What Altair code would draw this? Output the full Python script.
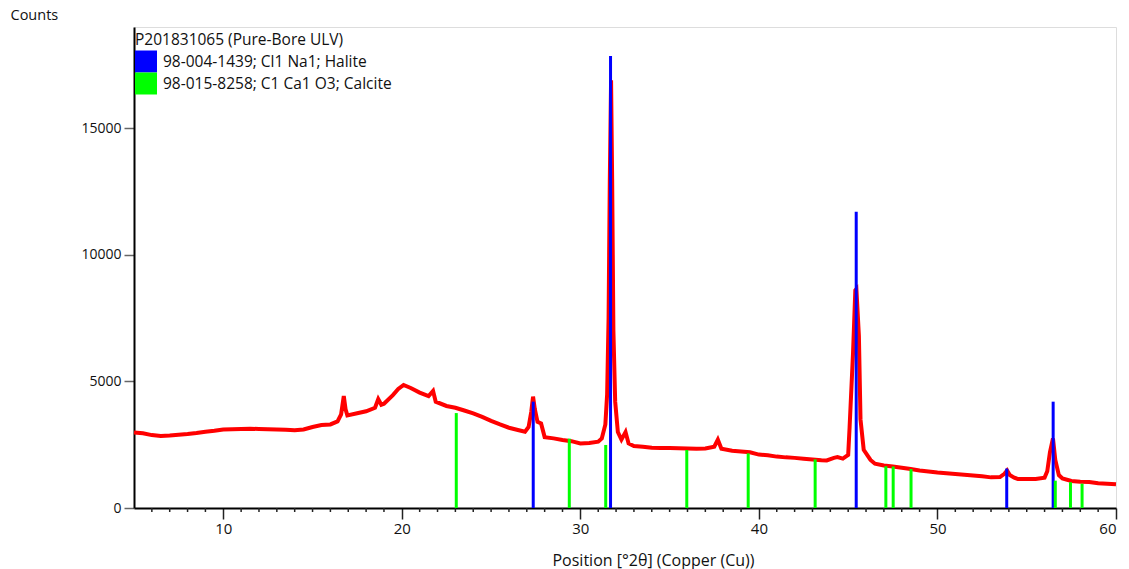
import altair as alt
import pandas as pd

# Measured diffraction profile (2θ in degrees, counts)
two_theta = [5.0, 5.5, 6.0, 6.5, 7.0, 7.5, 8.0, 8.5, 9.0, 9.5, 10.0, 10.5, 11.0, 11.5, 12.0, 12.5,
             13.0, 13.5, 14.0, 14.5, 15.0, 15.5, 16.0, 16.4, 16.6, 16.75, 16.85, 16.95, 17.5, 18.0,
             18.5, 18.68, 18.85, 19.0, 19.5, 19.8, 20.1, 20.5, 21.0, 21.5, 21.75, 21.9, 22.5, 23.0,
             23.5, 24.0, 24.5, 25.0, 25.5, 26.0, 26.5, 26.9, 27.1, 27.25, 27.35, 27.45, 27.6, 27.8,
             28.0, 28.5, 29.0, 29.5, 30.0, 30.5, 31.0, 31.2, 31.4, 31.5, 31.58, 31.65, 31.72, 31.78,
             31.85, 31.95, 32.1, 32.3, 32.53, 32.7, 33.0, 33.5, 34.0, 34.5, 35.0, 35.5, 36.0, 36.5,
             37.0, 37.5, 37.7, 37.9, 38.5, 39.0, 39.5, 40.0, 40.5, 41.0, 41.5, 42.0, 42.5, 43.0,
             43.5, 43.8, 44.2, 44.4, 44.7, 45.0, 45.08, 45.27, 45.4, 45.46, 45.6, 45.69, 45.87, 46.25,
             46.5, 47.0, 47.5, 48.0, 48.5, 49.0, 49.5, 50.0, 50.5, 51.0, 51.5, 52.0, 52.5, 53.0,
             53.5, 53.75, 53.9, 54.05, 54.3, 54.5, 55.0, 55.5, 56.0, 56.15, 56.3, 56.47, 56.6, 56.8,
             57.0, 57.5, 58.0, 58.5, 59.0, 59.5, 60.0]
counts = [2980, 2950, 2880, 2840, 2860, 2890, 2920, 2960, 3010, 3050, 3100, 3110, 3120, 3130, 3120, 3110,
          3100, 3090, 3070, 3100, 3200, 3280, 3300, 3420, 3700, 4420, 3900, 3660, 3740, 3820,
          3960, 4300, 4080, 4120, 4460, 4700, 4860, 4740, 4560, 4420, 4620, 4200, 4030, 3960,
          3850, 3740, 3600, 3440, 3300, 3170, 3080, 3010, 3200, 3800, 4400, 3900, 3400, 3340,
          2800, 2750, 2690, 2640, 2550, 2570, 2620, 2750, 3300, 4500, 7500, 13000, 16900, 13000,
          7000, 4200, 3000, 2700, 3000, 2550, 2450, 2420, 2380, 2370, 2370, 2360, 2350, 2340,
          2350, 2420, 2700, 2340, 2260, 2230, 2200, 2110, 2080, 2030, 2000, 1980, 1950, 1920,
          1890, 1880, 1980, 2010, 1950, 2100, 3200, 6100, 8600, 8650, 6800, 3500, 2300, 1900,
          1750, 1680, 1640, 1590, 1540, 1480, 1440, 1400, 1370, 1340, 1310, 1280, 1250, 1210,
          1220, 1350, 1480, 1300, 1200, 1150, 1150, 1150, 1200, 1450, 2200, 2750, 1900, 1300,
          1170, 1070, 1040, 1030, 980, 960, 940]

# Reference patterns (stick positions and heights)
halite_label = "98-004-1439; Cl1 Na1; Halite"
halite_pos = [27.36, 31.69, 45.45, 53.88, 56.48]
halite_int = [4200, 17850, 11700, 1560, 4200]

calcite_label = "98-015-8258; C1 Ca1 O3; Calcite"
calcite_pos = [23.05, 29.38, 31.42, 35.96, 39.40, 43.15, 47.11, 47.52, 48.52, 56.60, 57.45, 58.10]
calcite_int = [3750, 2740, 2490, 2290, 2160, 1920, 1650, 1640, 1540, 1080, 1020, 960]

legend_title = "P201831065 (Pure-Bore ULV)"
x_title = "Position [°2θ] (Copper (Cu))"
y_title = "Counts"
x_major = [10, 20, 30, 40, 50, 60]
x_minor = [v for v in range(6, 60) if v % 10 != 0]
y_ticks = [0, 5000, 10000, 15000]

FONT = "Open Sans"
W, H = 982, 481

profile = pd.DataFrame({"pos": two_theta, "counts": counts})
sticks = pd.DataFrame({
    "pos": halite_pos + calcite_pos,
    "intensity": halite_int + calcite_int,
    "phase": [halite_label] * len(halite_pos) + [calcite_label] * len(calcite_pos),
})
minor = pd.DataFrame({"pos": x_minor})

xscale = alt.Scale(domain=[5, 60], nice=False, zero=False)
yscale = alt.Scale(domain=[0, 19000], nice=False)
cscale = alt.Scale(domain=[halite_label, calcite_label], range=["#0000FF", "#00FF00"])

xaxis = alt.Axis(values=x_major, title=x_title, tickSize=11, tickColor="#222", tickWidth=1.5,
                 labelFontSize=15, labelFont=FONT, labelColor="#111", labelPadding=2,
                 domainColor="black", domainWidth=2, grid=False,
                 titleFont=FONT, titleFontSize=16, titleFontWeight="normal", titleColor="#111",
                 titleX=519, titleY=57, titleBaseline="alphabetic")
yaxis = alt.Axis(values=y_ticks, format="d", title=y_title, tickSize=10, tickColor="#666",
                 tickWidth=1.5, labelFontSize=14, labelFont=FONT, labelColor="#111",
                 labelPadding=3, domainColor="black", domainWidth=2, grid=False,
                 titleFont=FONT, titleFontSize=14.5, titleFontWeight="normal", titleColor="#111",
                 titleAngle=0, titleX=-124, titleY=-12, titleAlign="left",
                 titleBaseline="middle")

legend_layer = alt.Chart(sticks).mark_square(filled=True, opacity=0).encode(
    x=alt.X("pos:Q", scale=xscale, axis=xaxis),
    y=alt.Y("intensity:Q", scale=yscale, axis=yaxis),
    color=alt.Color("phase:N", scale=cscale,
                    legend=alt.Legend(title=legend_title, orient="none", legendX=1, legendY=6,
                                      symbolType="square", symbolSize=484, symbolStrokeWidth=0,
                                      symbolOpacity=1, rowPadding=0, labelOffset=6,
                                      titleFont=FONT, titleFontSize=15.5, titleFontWeight="normal",
                                      titleColor="#111", titlePadding=2, titleLimit=500,
                                      labelFont=FONT, labelFontSize=15.5, labelColor="#111",
                                      labelLimit=500)),
)

line = alt.Chart(profile).mark_line(color="#FF0000", strokeWidth=4).encode(
    x=alt.X("pos:Q", scale=xscale),
    y=alt.Y("counts:Q", scale=yscale),
)

rules = alt.Chart(sticks).mark_rule(strokeWidth=3).encode(
    x=alt.X("pos:Q", scale=xscale),
    y=alt.Y("intensity:Q", scale=yscale),
    y2=alt.datum(0),
    color=alt.Color("phase:N", scale=cscale, legend=None),
)

minor_ticks = alt.Chart(minor).mark_rule(color="#222", strokeWidth=1.5).encode(
    x=alt.X("pos:Q", scale=xscale),
    y=alt.value(H),
    y2=alt.value(H + 4),
)

chart = alt.layer(legend_layer, line, rules, minor_ticks).properties(
    width=W, height=H,
    autosize=alt.AutoSizeParams(type="none"),
    padding={"left": 134, "top": 27, "right": 13, "bottom": 61},
).configure_view(stroke="black", strokeWidth=2).configure(background="white")

chart.save("out.html", embed_options={"renderer": "svg", "actions": False})
